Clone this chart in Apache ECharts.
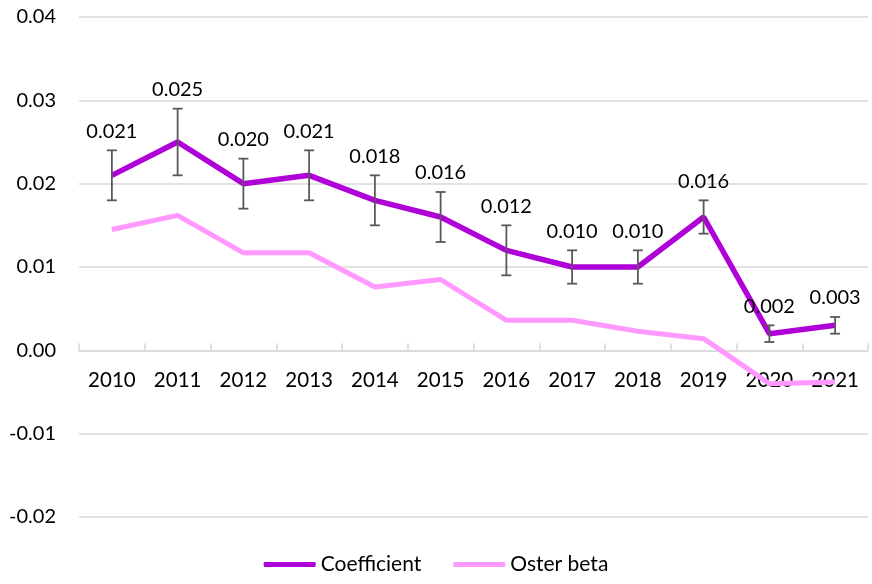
<!DOCTYPE html>
<html><head><meta charset="utf-8">
<script src="https://cdn.jsdelivr.net/npm/echarts@6/dist/echarts.min.js"></script>
<style>html,body{margin:0;padding:0;background:#fff}#c{width:872px;height:584px}</style>
</head><body><div id="c"></div>
<script>
var years = ['2010','2011','2012','2013','2014','2015','2016','2017','2018','2019','2020','2021'];
var coefficient = [0.021,0.025,0.020,0.021,0.018,0.016,0.012,0.010,0.010,0.016,0.002,0.003];
var errLow = [0.018,0.021,0.017,0.018,0.015,0.013,0.009,0.008,0.008,0.014,0.001,0.002];
var errHigh = [0.024,0.029,0.023,0.024,0.021,0.019,0.015,0.012,0.012,0.018,0.003,0.004];
var osterBeta = [0.0145,0.0162,0.0117,0.0117,0.0076,0.0085,0.0036,0.0036,0.0023,0.0014,-0.0040,-0.0038];

var FONT = 'Lato, "Open Sans", sans-serif';
var chart = echarts.init(document.getElementById('c'));
var errData = years.map(function(y,i){ return [i, errLow[i], errHigh[i], coefficient[i]]; });
var gridTop = 17, gridBottom = 67, yMin = -0.02, yMax = 0.04;
var plotH = 584 - gridTop - gridBottom;
var zeroOffset = -plotH * (0 - yMin) / (yMax - yMin);

chart.setOption({
  animation: false,
  grid: { left: 79, right: 4, top: gridTop, bottom: gridBottom },
  legend: {
    bottom: 4, left: 'center',
    itemWidth: 52, itemHeight: 5, itemGap: 32,
    textStyle: { fontFamily: FONT, fontSize: 21, color: '#000' },
    data: [{name:'Coefficient', icon:'roundRect'}, {name:'Oster beta', icon:'roundRect'}]
  },
  xAxis: {
    type: 'category', data: years, boundaryGap: true, offset: zeroOffset,
    axisLine: { onZero: false, lineStyle: { color: '#d9d9d9', width: 1.5 } },
    axisTick: { show: true, inside: true, length: 7, lineStyle: { color: '#d9d9d9', width: 1.5 } },
    axisLabel: { fontFamily: FONT, fontSize: 20.5, color: '#000', margin: 20 },
    splitLine: { show: false }
  },
  yAxis: {
    type: 'value', min: yMin, max: yMax, interval: 0.01,
    axisLine: { show: false }, axisTick: { show: false },
    axisLabel: { fontFamily: FONT, fontSize: 20, color: '#000', margin: 23,
      formatter: function(v){ return v.toFixed(2); } },
    splitLine: { lineStyle: { color: '#d9d9d9', width: 1.5 } }
  },
  series: [
    { name: 'Oster beta', type: 'line', data: osterBeta, symbol: 'none',
      lineStyle: { color: '#FF99FF', width: 5 }, itemStyle: { color: '#FF99FF' }, z: 2 },
    { name: 'Coefficient', type: 'line', data: coefficient, symbol: 'none',
      lineStyle: { color: '#B000D8', width: 5.5 }, itemStyle: { color: '#B000D8' }, z: 3 },
    { name: 'err', type: 'custom', data: errData, z: 4,
      encode: { x: 0, y: [1,2] },
      renderItem: function(params, api){
        var x = api.value(0);
        var lo = api.coord([x, api.value(1)]);
        var hi = api.coord([x, api.value(2)]);
        var hw = 5;
        var st = { stroke: '#595959', lineWidth: 1.8 };
        return { type: 'group', children: [
          { type: 'line', shape: { x1: lo[0], y1: lo[1], x2: hi[0], y2: hi[1] }, style: st },
          { type: 'line', shape: { x1: lo[0]-hw, y1: lo[1], x2: lo[0]+hw, y2: lo[1] }, style: st },
          { type: 'line', shape: { x1: hi[0]-hw, y1: hi[1], x2: hi[0]+hw, y2: hi[1] }, style: st },
          { type: 'text', x: hi[0], y: hi[1] - 9, style: {
              text: api.value(3).toFixed(3), textAlign: 'center', textVerticalAlign: 'bottom',
              fill: '#000', font: '20px ' + FONT } }
        ]};
      }
    }
  ]
});
</script></body></html>
